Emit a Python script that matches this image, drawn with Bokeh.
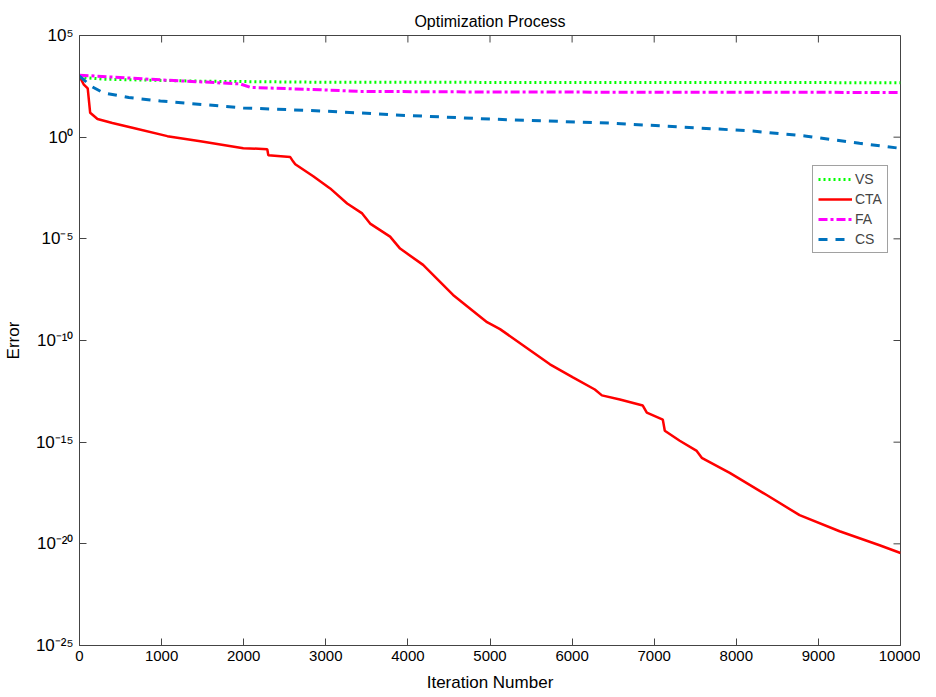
from bokeh.plotting import figure
from bokeh.models import FixedTicker, CustomJSTickFormatter, Range1d
from bokeh.embed import file_html
from bokeh.resources import INLINE

# ---- data ----
x_ticks = [0, 1000, 2000, 3000, 4000, 5000, 6000, 7000, 8000, 9000, 10000]
y_ticks = [1e-25, 1e-20, 1e-15, 1e-10, 1e-5, 1e0, 1e5]

vs_x = [0, 300, 1500, 3000, 10000]
vs_log = [2.95, 2.85, 2.75, 2.70, 2.68]

cta_x = [0, 50, 100, 130, 219, 400, 657, 1070, 1472, 1995, 2287, 2300, 2567, 2603,
         2628, 2847, 3053, 3260, 3443, 3540, 3783, 3905, 4185, 4550, 4964, 5122,
         5401, 5730, 6010, 6277, 6363, 6582, 6861, 6910, 7105, 7129, 7311, 7518,
         7579, 7920, 8370, 8771, 9258, 9745, 10000]
cta_log = [3.0, 2.6, 2.4, 1.2, 0.89, 0.7, 0.45, 0.05, -0.2, -0.54, -0.59, -0.89,
           -0.98, -1.2, -1.33, -1.92, -2.52, -3.26, -3.75, -4.25, -4.89, -5.48,
           -6.28, -7.76, -9.10, -9.44, -10.23, -11.17, -11.81, -12.41, -12.70,
           -12.90, -13.20, -13.55, -13.89, -14.44, -14.93, -15.43, -15.77, -16.51,
           -17.60, -18.59, -19.38, -20.07, -20.45]

fa_x = [0, 985, 1958, 2080, 2932, 3418, 5000, 10000]
fa_log = [3.05, 2.82, 2.62, 2.45, 2.33, 2.25, 2.22, 2.20]

cs_x = [0, 60, 134, 292, 600, 985, 1995, 2932, 3418, 3800, 5000, 6460, 7555,
        8200, 8856, 9500, 10000]
cs_log = [3.0, 2.8, 2.52, 2.18, 1.95, 1.78, 1.44, 1.29, 1.19, 1.10, 0.89, 0.69,
          0.45, 0.30, 0.05, -0.30, -0.55]

x_min, x_max = 0, 10000
y_min, y_max = 1e-25, 1e5


def tov(logs):
    return [10.0 ** v for v in logs]


FONT = "Liberation Sans"
AX = "#444444"

p = figure(width=920, height=694, y_axis_type="log",
           x_range=Range1d(x_min, x_max), y_range=Range1d(y_min, y_max),
           output_backend="svg", toolbar_location=None,
           title="Optimization Process",
           min_border_left=78, min_border_right=20,
           min_border_top=35, min_border_bottom=30)

p.title.align = "center"
p.title.text_font = FONT
p.title.text_font_size = "16px"
p.title.text_font_style = "normal"
p.title.text_color = "black"
p.title.standoff = 12

p.xgrid.visible = False
p.ygrid.visible = False
p.outline_line_color = AX
p.outline_line_width = 1
p.outline_line_alpha = 1

sup = CustomJSTickFormatter(code="""
const m = {'0':'\u2070','1':'\u00b9','2':'\u00b2','3':'\u00b3','4':'\u2074',
           '5':'\u2075','6':'\u2076','7':'\u2077','8':'\u2078','9':'\u2079','-':'\u207b'};
const e = String(Math.round(Math.log10(tick)));
let s = '';
for (const c of e) { s += m[c]; }
return '10' + s;
""")

xa = p.xaxis[0]
xa.ticker = FixedTicker(ticks=x_ticks)
xa.axis_label = "Iteration Number"
ya = p.yaxis[0]
ya.ticker = FixedTicker(ticks=y_ticks)
ya.formatter = sup
ya.axis_label = "Error"

for ax in (xa, ya):
    ax.axis_line_color = AX
    ax.major_tick_line_color = AX
    ax.major_tick_in = 7
    ax.major_tick_out = 0
    ax.minor_tick_line_color = None
    ax.major_label_text_font = FONT
    ax.major_label_text_color = "black"
    ax.axis_label_text_font = FONT
    ax.axis_label_text_font_style = "normal"
    ax.axis_label_text_color = "black"
    ax.axis_label_text_font_size = "17px"
xa.major_label_text_font_size = "15px"
ya.major_label_text_font_size = "17px"
xa.major_label_standoff = 5
xa.axis_label_standoff = 9
ya.major_label_standoff = 6
ya.axis_label_standoff = 10

# mirrored tick marks on the top and right edges of the box
p.ray(x=x_ticks, y=[y_max] * len(x_ticks), length=7, length_units="screen",
      angle=-90, angle_units="deg", line_color=AX, line_width=1)
p.ray(x=[x_max] * len(y_ticks), y=y_ticks, length=7, length_units="screen",
      angle=180, angle_units="deg", line_color=AX, line_width=1)

p.line(vs_x, tov(vs_log), line_color="#00ff00", line_width=3, line_dash="2 3",
       legend_label="VS")
p.line(cta_x, tov(cta_log), line_color="#ff0000", line_width=2.5,
       legend_label="CTA")
p.line(fa_x, tov(fa_log), line_color="#ff00ff", line_width=3, line_dash="9 3 3 3",
       legend_label="FA")
p.line(cs_x, tov(cs_log), line_color="#0072bd", line_width=3, line_dash="9 8",
       legend_label="CS")

lg = p.legend[0]
lg.location = (733, 392)
lg.label_text_font = FONT
lg.label_text_font_size = "14px"
lg.label_height = 14
lg.glyph_height = 14
lg.glyph_width = 34
lg.spacing = 4
lg.padding = 5
lg.margin = 0
lg.label_standoff = 3
lg.border_line_color = AX
lg.border_line_width = 1
lg.background_fill_alpha = 1

open("out.html", "w").write(file_html(p, INLINE))
